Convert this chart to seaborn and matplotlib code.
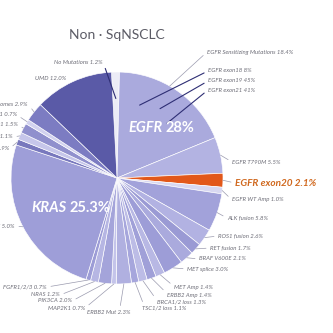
import matplotlib
matplotlib.use("Agg")
import matplotlib.pyplot as plt
import numpy as np
import seaborn as sns

sns.set_theme(style="white")
plt.rcParams["font.family"] = ["Lato", "DejaVu Sans"]

# Driver alterations in non-squamous NSCLC, clockwise from 12 o'clock (percent)
labels = [
    "No Mutations", "EGFR Sensitizing Mutations", "EGFR T790M", "EGFR exon20",
    "EGFR WT Amp", "ALK fusion", "ROS1 fusion", "RET fusion", "BRAF V600E",
    "MET splice", "MET Amp", "ERBB2 Amp", "BRCA1/2 loss", "TSC1/2 loss",
    "ERBB2 Mut", "MAP2K1", "PIK3CA", "NRAS", "FGFR1/2/3", "KRAS",
    "STK11", "SMARCA4", "KEAP1", "NF1", "Other Genomes", "UMD",
]
values = [
    1.2, 18.4, 5.5, 2.1,
    1.0, 5.8, 2.6, 1.7, 2.1,
    3.0, 1.4, 1.4, 1.3, 1.1,
    2.3, 0.7, 2.0, 1.2, 0.7, 25.3,
    0.9, 1.1, 1.5, 0.7, 2.9, 12.0,
]
colors = [
    "#ececf6", "#aaaadd", "#b3b3e2", "#e2581a",
    "#d8d8f1", "#a2a2da", "#b2b2e2", "#9a9ad4", "#aaaadd",
    "#9d9dd7", "#b8b8e4", "#a0a0d8", "#bcbce6", "#a6a6dc",
    "#b0b0e0", "#c4c4ea", "#a4a4da", "#b6b6e3", "#9c9cd6", "#9e9ed8",
    "#7878bd", "#c6c6ea", "#9090cd", "#d2d2ef", "#7c7cc2", "#5a5aa7",
]
# EGFR sensitizing subtypes (share of the sensitizing slice)
egfr_sub = ["EGFR exon18 8%", "EGFR exon19 45%", "EGFR exon21 41%"]
group_egfr = "EGFR 28%"
group_kras_pct = "25.3%"
kras_sub = "KRAS G12C 5.0%"

W = H = 333
fig = plt.figure(figsize=(3.33, 3.33), dpi=100)
fig.patch.set_facecolor("white")
ax = fig.add_axes([0, 0, 1, 1])

def P(x, y):
    return (x, H - y)

wedges, _ = ax.pie(values, colors=colors, startangle=93, counterclock=False,
                   center=P(117, 178), radius=106,
                   wedgeprops=dict(edgecolor="white", linewidth=0.45))
ax.set_xlim(0, W)
ax.set_ylim(0, H)
ax.set_aspect("equal")
ax.axis("off")

def anchor(i, t=0.5, rf=1.0):
    w = wedges[i]
    ang = np.deg2rad(w.theta2 - t * (w.theta2 - w.theta1))
    cx, cy = w.center
    return (cx + rf * w.r * np.cos(ang), cy + rf * w.r * np.sin(ang))

small = dict(fontsize=4.3, style="italic", color="#6e6e78")
line_out = dict(arrowstyle="-", color="#9a9aae", lw=0.5, shrinkA=0.5, shrinkB=0)
line_in = dict(arrowstyle="-", color="#2e2e74", lw=0.8, shrinkA=0.5, shrinkB=0)

def label(text, i, xy_px, ha="left", relpos=None, t=0.5, rf=1.0, arrow=line_out, **kw):
    if relpos is None:
        relpos = (0, 0.5) if ha == "left" else (1, 0.5)
    style = dict(small)
    style.update(kw)
    ap = dict(arrow)
    ap["relpos"] = relpos
    ax.annotate(text, xy=anchor(i, t, rf), xytext=P(*xy_px), ha=ha, va="center",
                arrowprops=ap, annotation_clip=False, **style)

def pct(i):
    return f"{labels[i]} {values[i]:.1f}%"

# Title
ax.text(*P(117, 35), "Non · SqNSCLC", ha="center", va="center",
        fontsize=10, color="#5c5c66")

# Top labels
label(pct(0), 0, (103, 62), ha="right", rf=0.75, arrow=line_in)
label(pct(1), 1, (207, 52), t=0.43, rf=1.0)
label(egfr_sub[0], 1, (208, 71), t=0.24, rf=0.72, arrow=line_in)
label(egfr_sub[1], 1, (208, 81), t=0.46, rf=0.77, arrow=line_in)
label(egfr_sub[2], 1, (208, 90), t=0.62, rf=0.7, arrow=line_in)
ax.text(*P(35, 79), pct(25), ha="left", va="center", **small)

# Right-side labels
label(pct(2), 2, (232, 162))
label(pct(3), 3, (235, 183), fontsize=7.2, weight="bold", color="#d0681e")
label(pct(4), 4, (232, 200))
label(pct(5), 5, (227, 218))
label(pct(6), 6, (218, 236))
label(pct(7), 7, (210, 248))
label(pct(8), 8, (199, 259))
label(pct(9), 9, (187, 269))

# Bottom labels
label(pct(10), 10, (174, 288), relpos=(0, 0.8))
label(pct(11), 11, (167, 295), relpos=(0, 0.8))
label(pct(12), 12, (157, 302), relpos=(0, 0.8))
label(pct(13), 13, (142, 308), relpos=(0.05, 0.9))
label(pct(14), 14, (87, 312), relpos=(0.75, 0.9))
label(pct(15), 15, (85, 308), ha="right")
label(pct(16), 16, (72, 301), ha="right")
label(pct(17), 17, (60, 295), ha="right")
label(pct(18), 18, (47, 287), ha="right")

# Left-side labels (run off the left edge)
label(kras_sub, 19, (15, 226), ha="right")
label(pct(20), 20, (9, 149), ha="right")
label(pct(21), 21, (13, 137), ha="right")
label(pct(22), 22, (18, 125), ha="right")
label(pct(23), 23, (17, 115), ha="right")
label(pct(24), 24, (28, 104), ha="right")

# Group labels inside the pie
big = dict(fontsize=10.5, weight="bold", color="white", va="center")
ax.text(*P(163, 128), "EGFR", ha="right", style="italic", **big)
ax.text(*P(166, 128), group_egfr.split()[1], ha="left", **big)
ax.text(*P(67, 208), "KRAS", ha="right", style="italic", **big)
ax.text(*P(70, 208), group_kras_pct, ha="left", **big)

fig.savefig("out.png", dpi=100, facecolor="white")
